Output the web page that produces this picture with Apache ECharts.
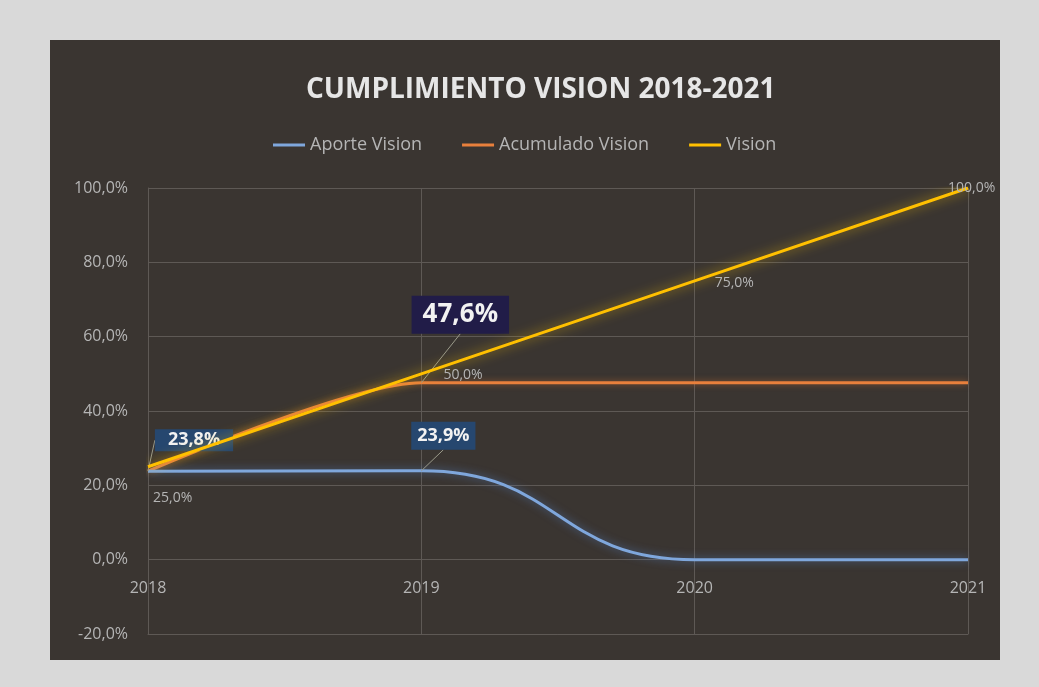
<!DOCTYPE html>
<html>
<head>
<meta charset="utf-8">
<script src="https://cdn.jsdelivr.net/npm/echarts@6/dist/echarts.min.js"></script>
<style>
  html, body { margin: 0; padding: 0; background: #d9d9d9; }
  body { width: 1039px; height: 687px; position: relative; overflow: hidden; }
  #chart { position: absolute; left: 50px; top: 40px; width: 950px; height: 620px; }
</style>
</head>
<body>
<div id="chart"></div>
<script>
const years = ['2018', '2019', '2020', '2021']
const aporte = [23.8, 23.9, 0, 0]
const acumulado = [23.8, 47.6, 47.6, 47.6]
const vision = [25, 50, 75, 100]

const pct = v => v.toFixed(1).replace('.', ',') + '%'

// cajas de etiqueta (se mueven con labelLayout para que salga la linea guia)
const boxLabel = (bg, size, pad) => ({
  show: true,
  position: 'top',
  formatter: p => pct(p.value),
  backgroundColor: bg,
  color: '#f2f2f2',
  fontWeight: 'bold',
  fontSize: size,
  padding: pad
})

const grayLabel = (dx, dy) => ({
  show: true,
  position: 'right',
  formatter: p => pct(p.value),
  color: '#b5b5b5',
  fontSize: 14,
  offset: [dx, dy]
})

const hidden = { show: false }
const guide = { show: true, lineStyle: { color: '#9a9a8a', width: 1 } }

const aporteMoves = [{ dx: 46, dy: -15 }, { dx: 22, dy: -16 }, {}, {}]
const acumMoves = [{}, { dx: 39, dy: -44 }, {}, {}]

const options = {
  backgroundColor: '#3a3531',
  textStyle: { fontFamily: 'Open Sans' },
  title: {
    text: 'CUMPLIMIENTO VISION 2018-2021',
    left: 251,
    top: 31,
    textStyle: { color: '#e6e6e6', fontSize: 28, fontWeight: 'bold', fontFamily: 'Open Sans' }
  },
  legend: {
    top: 91,
    left: 218,
    itemWidth: 32,
    itemHeight: 3,
    itemGap: 40,
    icon: 'rect',
    textStyle: { color: '#b5b5b5', fontSize: 18 },
    data: ['Aporte Vision', 'Acumulado Vision', 'Vision']
  },
  grid: { left: 98, right: 32, top: 148, bottom: 26 },
  xAxis: {
    type: 'category',
    data: years,
    boundaryGap: false,
    axisLine: { onZero: false, lineStyle: { color: '#5e5955' } },
    axisTick: { show: false },
    axisLabel: { color: '#b5b5b5', fontSize: 16, margin: -54 },
    splitLine: { show: true, lineStyle: { color: '#5e5955' } }
  },
  yAxis: {
    type: 'value',
    min: -20,
    max: 100,
    interval: 20,
    axisLine: { show: true, lineStyle: { color: '#5e5955' } },
    axisLabel: {
      color: '#b5b5b5',
      fontSize: 16,
      margin: 20,
      formatter: v => v.toFixed(1).replace('.', ',') + '%'
    },
    splitLine: { lineStyle: { color: '#5e5955' } }
  },
  series: [
    {
      name: 'Aporte Vision',
      type: 'line',
      smooth: 0.5,
      symbol: 'circle',
      symbolSize: 0.1,
      showSymbol: true,
      z: 3,
      lineStyle: { color: '#7fa7dc', width: 3, shadowBlur: 8, shadowColor: 'rgba(90,140,220,0.6)' },
      itemStyle: { color: '#7fa7dc' },
      labelLine: guide,
      labelLayout: p => aporteMoves[p.dataIndex],
      data: [
        { value: aporte[0], label: boxLabel('#26476f', 18, [2, 13]) },
        { value: aporte[1], label: boxLabel('#26476f', 18, [5, 6]) },
        { value: aporte[2], label: hidden },
        { value: aporte[3], label: hidden }
      ]
    },
    {
      name: 'Acumulado Vision',
      type: 'line',
      smooth: 0.25,
      symbol: 'circle',
      symbolSize: 0.1,
      showSymbol: true,
      z: 2,
      lineStyle: { color: '#e8803c', width: 3, shadowBlur: 6, shadowColor: 'rgba(230,120,50,0.5)' },
      itemStyle: { color: '#e8803c' },
      labelLine: guide,
      labelLayout: p => acumMoves[p.dataIndex],
      data: [
        { value: acumulado[0], label: hidden },
        { value: acumulado[1], label: boxLabel('#211c48', 26, [6, 11]) },
        { value: acumulado[2], label: hidden },
        { value: acumulado[3], label: hidden }
      ]
    },
    {
      name: 'Vision',
      type: 'line',
      symbol: 'circle',
      symbolSize: 0.1,
      showSymbol: true,
      z: 4,
      lineStyle: { color: '#ffc000', width: 3, shadowBlur: 12, shadowColor: 'rgba(255,200,0,0.7)' },
      itemStyle: { color: '#ffc000' },
      data: [
        { value: vision[0], label: grayLabel(0, 31) },
        { value: vision[1], label: grayLabel(17, 1) },
        { value: vision[2], label: grayLabel(15, 2) },
        { value: vision[3], label: grayLabel(-25, 0) }
      ]
    }
  ]
}

let chart = null
const initChart = () => {
  const chart = echarts.init(document.getElementById('chart'))
  chart.setOption(options)
  return chart
}
chart = initChart()
window.addEventListener('resize', function () {
  chart && chart.resize()
})
</script>
</body>
</html>
